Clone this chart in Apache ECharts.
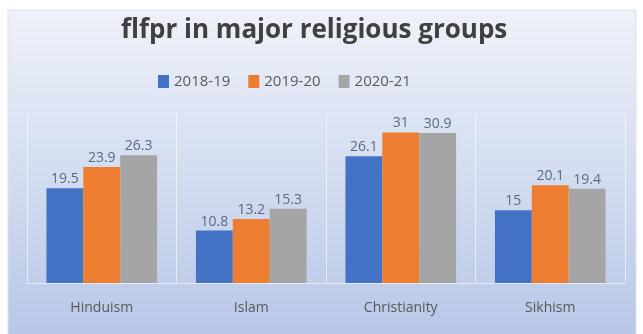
<!DOCTYPE html>
<html><head><meta charset="utf-8">
<script src="https://cdn.jsdelivr.net/npm/echarts@6/dist/echarts.min.js"></script>
<style>html,body{margin:0;padding:0;background:#fff}#c{width:643px;height:334px}</style>
</head><body><div id="c"></div>
<script>
const categories = ['Hinduism', 'Islam', 'Christianity', 'Sikhism'];
const seriesNames = ['2018-19', '2019-20', '2020-21'];
const s2018 = [19.5, 10.8, 26.1, 15];
const s2019 = [23.9, 13.2, 31, 20.1];
const s2020 = [26.3, 15.3, 30.9, 19.4];
const colors = ['#4472c4', '#ed7d31', '#a5a5a5'];
const chart = echarts.init(document.getElementById('c'));
const font = '"Open Sans", sans-serif';
const mk = (name, data, color) => ({
  name, type: 'bar', data, barGap: '0%', barCategoryGap: '26%',
  itemStyle: { color },
  label: { show: true, position: 'top', distance: 2, color: '#5b6a80', fontSize: 14, fontFamily: font },
  emphasis: { disabled: true }
});
chart.setOption({
  animation: false,
  graphic: [{
    type: 'rect', z: -10, silent: true,
    shape: { x: 8, y: 10, width: 628, height: 330 },
    style: {
      fill: new echarts.graphic.LinearGradient(0, 0, 0, 1, [
        { offset: 0, color: '#eef1f9' },
        { offset: 0.5, color: '#d3ddf0' },
        { offset: 1, color: '#b6c6e6' }
      ]),
      stroke: '#dfe3ea', lineWidth: 1
    }
  }],
  title: {
    text: 'flfpr in major religious groups', left: 116, top: 13,
    textStyle: { fontSize: 26, fontWeight: 'bold', color: '#404040', fontFamily: font }
  },
  legend: {
    data: seriesNames, top: 69, left: 153, itemWidth: 11, itemHeight: 13, itemGap: 18,
    icon: 'rect',
    textStyle: { fontSize: 15, color: '#595959', fontFamily: font }
  },
  grid: { left: 27, right: 18, top: 113, bottom: 51 },
  xAxis: {
    type: 'category', data: categories,
    axisLine: { lineStyle: { color: '#e6ecf5', width: 1 } },
    axisTick: { show: false },
    splitLine: { show: true, lineStyle: { color: 'rgba(255,255,255,0.6)', width: 1 } },
    axisLabel: { fontSize: 14, color: '#595959', margin: 18, fontFamily: font }
  },
  yAxis: { type: 'value', min: 0, max: 35, show: false, splitLine: { show: false } },
  series: [mk(seriesNames[0], s2018, colors[0]), mk(seriesNames[1], s2019, colors[1]), mk(seriesNames[2], s2020, colors[2])]
});
</script></body></html>
